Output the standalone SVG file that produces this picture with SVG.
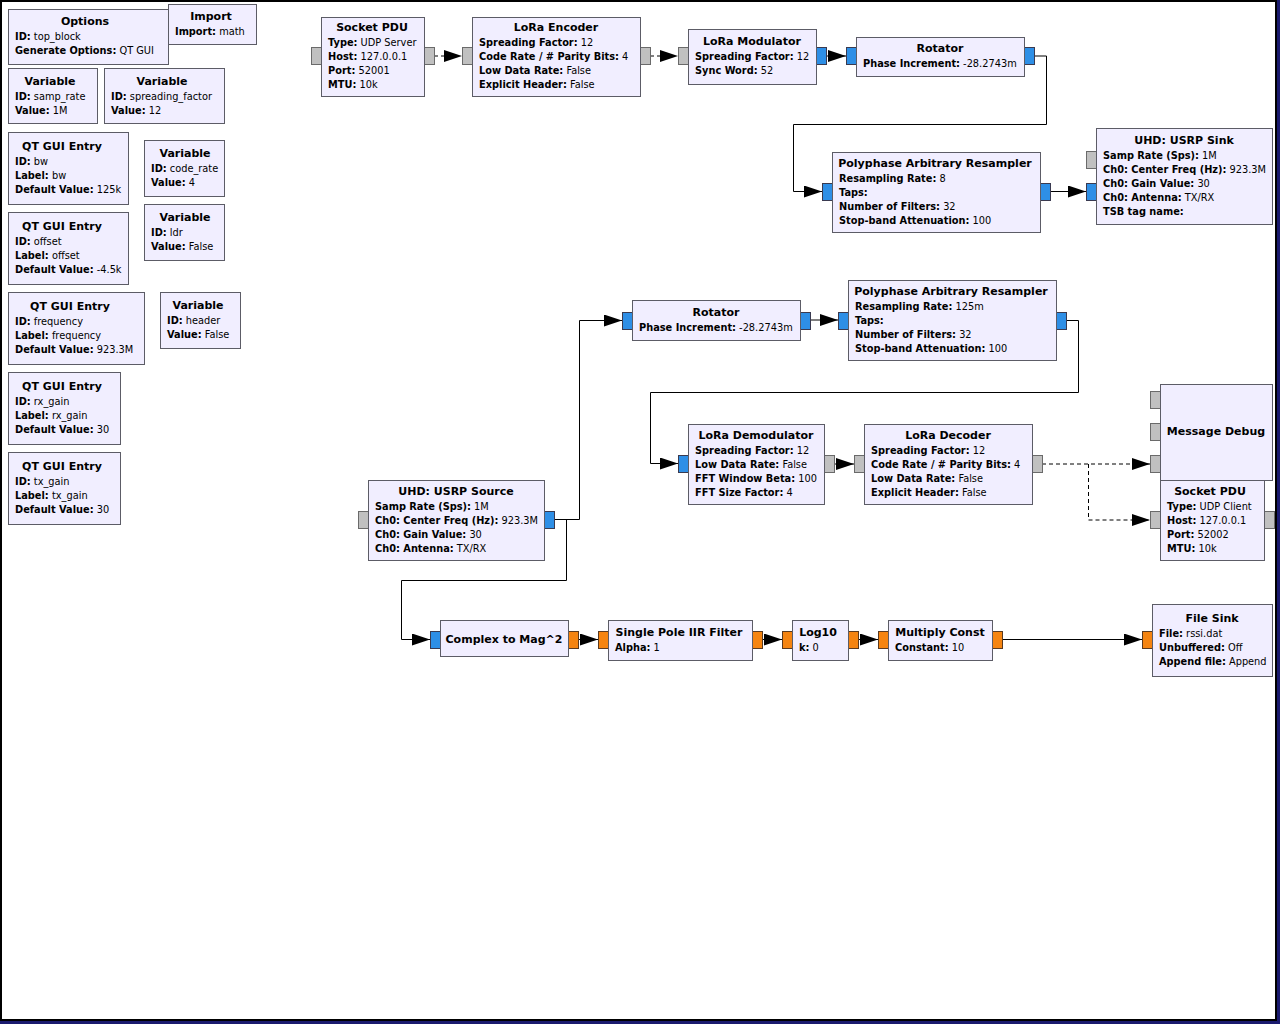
<svg xmlns="http://www.w3.org/2000/svg" width="1280" height="1024" viewBox="0 0 1280 1024">
<defs>
<style>
.blk{fill:#F1EEFF;stroke:#5c5c66;stroke-width:1}
.pm{fill:#C0C0C0;stroke:#6a6a6a;stroke-width:1}
.pc{fill:#2E8FE6;stroke:#3a3a50;stroke-width:1}
.pf{fill:#F58410;stroke:#5a3a20;stroke-width:1}
text{font-family:"DejaVu Sans","Liberation Sans",sans-serif;font-size:9.8px;fill:#000}
.t{font-weight:bold;text-anchor:middle;font-size:11px}
.k{font-weight:bold}
.c{fill:none;stroke:#000;stroke-width:1}
.d{fill:none;stroke:#000;stroke-width:1;stroke-dasharray:4,3}
</style>
<marker id="ah" viewBox="0 0 18 12" refX="18" refY="6" markerWidth="18" markerHeight="12" markerUnits="userSpaceOnUse" orient="auto">
<path d="M0,0 L18,6 L0,12 z" fill="#000"/>
</marker>
</defs>
<rect x="0" y="0" width="1280" height="1024" fill="#1a1a6e"/>
<rect x="1" y="1" width="1275" height="1019" fill="#FFFFFF" stroke="#000" stroke-width="2"/>

<g id="connectors">
<path class="d" d="M434,56 H462" marker-end="url(#ah)"/>
<path class="d" d="M650,56 H678" marker-end="url(#ah)"/>
<path class="c" d="M826,56 H846" marker-end="url(#ah)"/>
<path class="c" d="M1034,56 H1046.5 V124.5 H793.5 V191.5 H822" marker-end="url(#ah)"/>
<path class="c" d="M1050,191.5 H1086" marker-end="url(#ah)"/>
<path class="c" d="M810,320 H838" marker-end="url(#ah)"/>
<path class="c" d="M1066,320.5 H1078.5 V392.5 H650.5 V463.5 H678" marker-end="url(#ah)"/>
<path class="c" d="M834,464 H854" marker-end="url(#ah)"/>
<path class="d" d="M1042,464 H1150" marker-end="url(#ah)"/>
<path class="d" d="M1088.5,464 V520 H1150" marker-end="url(#ah)"/>
<path class="c" d="M554,519.5 H579.5 V320.5 H622" marker-end="url(#ah)"/>
<path class="c" d="M566.5,519.5 V580.5 H401.5 V639.5 H430" marker-end="url(#ah)"/>
<path class="c" d="M578,639.5 H598" marker-end="url(#ah)"/>
<path class="c" d="M762,639.5 H782" marker-end="url(#ah)"/>
<path class="c" d="M858,639.5 H878" marker-end="url(#ah)"/>
<path class="c" d="M1002,639.5 H1142" marker-end="url(#ah)"/>
</g>

<g id="options">
<rect class="blk" x="8.5" y="9.5" width="160" height="55"/>
<text class="t" x="85" y="25">Options</text>
<text x="15" y="40"><tspan class="k">ID:</tspan> top_block</text>
<text x="15" y="54"><tspan class="k">Generate Options:</tspan> QT GUI</text>
</g>
<g id="import">
<rect class="blk" x="168.5" y="4.5" width="88" height="40"/>
<text class="t" x="211" y="20">Import</text>
<text x="175" y="35"><tspan class="k">Import:</tspan> math</text>
</g>
<g id="var_samp_rate">
<rect class="blk" x="8.5" y="68.5" width="89" height="55"/>
<text class="t" x="50" y="85">Variable</text>
<text x="15" y="100"><tspan class="k">ID:</tspan> samp_rate</text>
<text x="15" y="114"><tspan class="k">Value:</tspan> 1M</text>
</g>
<g id="var_spreading_factor">
<rect class="blk" x="104.5" y="68.5" width="120" height="55"/>
<text class="t" x="162" y="85">Variable</text>
<text x="111" y="100"><tspan class="k">ID:</tspan> spreading_factor</text>
<text x="111" y="114"><tspan class="k">Value:</tspan> 12</text>
</g>
<g id="entry_bw">
<rect class="blk" x="8.5" y="132.5" width="120" height="72"/>
<text class="t" x="62" y="150">QT GUI Entry</text>
<text x="15" y="165"><tspan class="k">ID:</tspan> bw</text>
<text x="15" y="179"><tspan class="k">Label:</tspan> bw</text>
<text x="15" y="193"><tspan class="k">Default Value:</tspan> 125k</text>
</g>
<g id="var_code_rate">
<rect class="blk" x="144.5" y="140.5" width="80" height="56"/>
<text class="t" x="185" y="157">Variable</text>
<text x="151" y="172"><tspan class="k">ID:</tspan> code_rate</text>
<text x="151" y="186"><tspan class="k">Value:</tspan> 4</text>
</g>
<g id="entry_offset">
<rect class="blk" x="8.5" y="212.5" width="120" height="72"/>
<text class="t" x="62" y="230">QT GUI Entry</text>
<text x="15" y="245"><tspan class="k">ID:</tspan> offset</text>
<text x="15" y="259"><tspan class="k">Label:</tspan> offset</text>
<text x="15" y="273"><tspan class="k">Default Value:</tspan> -4.5k</text>
</g>
<g id="var_ldr">
<rect class="blk" x="144.5" y="204.5" width="80" height="56"/>
<text class="t" x="185" y="221">Variable</text>
<text x="151" y="236"><tspan class="k">ID:</tspan> ldr</text>
<text x="151" y="250"><tspan class="k">Value:</tspan> False</text>
</g>
<g id="entry_frequency">
<rect class="blk" x="8.5" y="292.5" width="136" height="72"/>
<text class="t" x="70" y="310">QT GUI Entry</text>
<text x="15" y="325"><tspan class="k">ID:</tspan> frequency</text>
<text x="15" y="339"><tspan class="k">Label:</tspan> frequency</text>
<text x="15" y="353"><tspan class="k">Default Value:</tspan> 923.3M</text>
</g>
<g id="var_header">
<rect class="blk" x="160.5" y="292.5" width="80" height="56"/>
<text class="t" x="198" y="309">Variable</text>
<text x="167" y="324"><tspan class="k">ID:</tspan> header</text>
<text x="167" y="338"><tspan class="k">Value:</tspan> False</text>
</g>
<g id="entry_rx_gain">
<rect class="blk" x="8.5" y="372.5" width="112" height="72"/>
<text class="t" x="62" y="390">QT GUI Entry</text>
<text x="15" y="405"><tspan class="k">ID:</tspan> rx_gain</text>
<text x="15" y="419"><tspan class="k">Label:</tspan> rx_gain</text>
<text x="15" y="433"><tspan class="k">Default Value:</tspan> 30</text>
</g>
<g id="entry_tx_gain">
<rect class="blk" x="8.5" y="452.5" width="112" height="72"/>
<text class="t" x="62" y="470">QT GUI Entry</text>
<text x="15" y="485"><tspan class="k">ID:</tspan> tx_gain</text>
<text x="15" y="499"><tspan class="k">Label:</tspan> tx_gain</text>
<text x="15" y="513"><tspan class="k">Default Value:</tspan> 30</text>
</g>

<g id="socket_pdu_server">
<rect class="pm" x="311.5" y="47.5" width="10" height="17"/>
<rect class="pm" x="424.5" y="47.5" width="10" height="17"/>
<rect class="blk" x="321.5" y="17.5" width="103" height="79"/>
<text class="t" x="372" y="31">Socket PDU</text>
<text x="328" y="46"><tspan class="k">Type:</tspan> UDP Server</text>
<text x="328" y="60"><tspan class="k">Host:</tspan> 127.0.0.1</text>
<text x="328" y="74"><tspan class="k">Port:</tspan> 52001</text>
<text x="328" y="88"><tspan class="k">MTU:</tspan> 10k</text>
</g>
<g id="lora_encoder">
<rect class="pm" x="462.5" y="47.5" width="10" height="17"/>
<rect class="pm" x="640.5" y="47.5" width="10" height="17"/>
<rect class="blk" x="472.5" y="17.5" width="168" height="79"/>
<text class="t" x="556" y="31">LoRa Encoder</text>
<text x="479" y="46"><tspan class="k">Spreading Factor:</tspan> 12</text>
<text x="479" y="60"><tspan class="k">Code Rate / # Parity Bits:</tspan> 4</text>
<text x="479" y="74"><tspan class="k">Low Data Rate:</tspan> False</text>
<text x="479" y="88"><tspan class="k">Explicit Header:</tspan> False</text>
</g>
<g id="lora_modulator">
<rect class="pm" x="678.5" y="47.5" width="10" height="17"/>
<rect class="pc" x="816.5" y="47.5" width="10" height="17"/>
<rect class="blk" x="688.5" y="29.5" width="128" height="55"/>
<text class="t" x="752" y="45">LoRa Modulator</text>
<text x="695" y="60"><tspan class="k">Spreading Factor:</tspan> 12</text>
<text x="695" y="74"><tspan class="k">Sync Word:</tspan> 52</text>
</g>
<g id="rotator_tx">
<rect class="pc" x="846.5" y="47.5" width="10" height="17"/>
<rect class="pc" x="1024.5" y="47.5" width="10" height="17"/>
<rect class="blk" x="856.5" y="37.5" width="168" height="39"/>
<text class="t" x="940" y="52">Rotator</text>
<text x="863" y="67"><tspan class="k">Phase Increment:</tspan> -28.2743m</text>
</g>
<g id="resampler_tx">
<rect class="pc" x="822.5" y="183.5" width="10" height="17"/>
<rect class="pc" x="1040.5" y="183.5" width="10" height="17"/>
<rect class="blk" x="832.5" y="152.5" width="208" height="80"/>
<text class="t" x="935" y="167">Polyphase Arbitrary Resampler</text>
<text x="839" y="182"><tspan class="k">Resampling Rate:</tspan> 8</text>
<text x="839" y="196"><tspan class="k">Taps:</tspan></text>
<text x="839" y="210"><tspan class="k">Number of Filters:</tspan> 32</text>
<text x="839" y="224"><tspan class="k">Stop-band Attenuation:</tspan> 100</text>
</g>
<g id="usrp_sink">
<rect class="pm" x="1086.5" y="151.5" width="10" height="17"/>
<rect class="pc" x="1086.5" y="183.5" width="10" height="17"/>
<rect class="blk" x="1096.5" y="128.5" width="176" height="96"/>
<text class="t" x="1184" y="144">UHD: USRP Sink</text>
<text x="1103" y="159"><tspan class="k">Samp Rate (Sps):</tspan> 1M</text>
<text x="1103" y="173"><tspan class="k">Ch0: Center Freq (Hz):</tspan> 923.3M</text>
<text x="1103" y="187"><tspan class="k">Ch0: Gain Value:</tspan> 30</text>
<text x="1103" y="201"><tspan class="k">Ch0: Antenna:</tspan> TX/RX</text>
<text x="1103" y="215"><tspan class="k">TSB tag name:</tspan></text>
</g>

<g id="rotator_rx">
<rect class="pc" x="622.5" y="312.5" width="10" height="17"/>
<rect class="pc" x="800.5" y="312.5" width="10" height="17"/>
<rect class="blk" x="632.5" y="300.5" width="168" height="40"/>
<text class="t" x="716" y="316">Rotator</text>
<text x="639" y="331"><tspan class="k">Phase Increment:</tspan> -28.2743m</text>
</g>
<g id="resampler_rx">
<rect class="pc" x="838.5" y="312.5" width="10" height="17"/>
<rect class="pc" x="1056.5" y="312.5" width="10" height="17"/>
<rect class="blk" x="848.5" y="280.5" width="208" height="80"/>
<text class="t" x="951" y="295">Polyphase Arbitrary Resampler</text>
<text x="855" y="310"><tspan class="k">Resampling Rate:</tspan> 125m</text>
<text x="855" y="324"><tspan class="k">Taps:</tspan></text>
<text x="855" y="338"><tspan class="k">Number of Filters:</tspan> 32</text>
<text x="855" y="352"><tspan class="k">Stop-band Attenuation:</tspan> 100</text>
</g>
<g id="lora_demodulator">
<rect class="pc" x="678.5" y="455.5" width="10" height="17"/>
<rect class="pm" x="824.5" y="455.5" width="10" height="17"/>
<rect class="blk" x="688.5" y="424.5" width="136" height="80"/>
<text class="t" x="756" y="439">LoRa Demodulator</text>
<text x="695" y="454"><tspan class="k">Spreading Factor:</tspan> 12</text>
<text x="695" y="468"><tspan class="k">Low Data Rate:</tspan> False</text>
<text x="695" y="482"><tspan class="k">FFT Window Beta:</tspan> 100</text>
<text x="695" y="496"><tspan class="k">FFT Size Factor:</tspan> 4</text>
</g>
<g id="lora_decoder">
<rect class="pm" x="854.5" y="455.5" width="10" height="17"/>
<rect class="pm" x="1032.5" y="455.5" width="10" height="17"/>
<rect class="blk" x="864.5" y="424.5" width="168" height="80"/>
<text class="t" x="948" y="439">LoRa Decoder</text>
<text x="871" y="454"><tspan class="k">Spreading Factor:</tspan> 12</text>
<text x="871" y="468"><tspan class="k">Code Rate / # Parity Bits:</tspan> 4</text>
<text x="871" y="482"><tspan class="k">Low Data Rate:</tspan> False</text>
<text x="871" y="496"><tspan class="k">Explicit Header:</tspan> False</text>
</g>
<g id="socket_pdu_client">
<rect class="pm" x="1150.5" y="511.5" width="10" height="17"/>
<rect class="pm" x="1264.5" y="511.5" width="10" height="17"/>
<rect class="blk" x="1160.5" y="480.5" width="104" height="80"/>
<text class="t" x="1210" y="495">Socket PDU</text>
<text x="1167" y="510"><tspan class="k">Type:</tspan> UDP Client</text>
<text x="1167" y="524"><tspan class="k">Host:</tspan> 127.0.0.1</text>
<text x="1167" y="538"><tspan class="k">Port:</tspan> 52002</text>
<text x="1167" y="552"><tspan class="k">MTU:</tspan> 10k</text>
</g>
<g id="message_debug">
<rect class="pm" x="1150.5" y="391.5" width="10" height="17"/>
<rect class="pm" x="1150.5" y="423.5" width="10" height="17"/>
<rect class="pm" x="1150.5" y="455.5" width="10" height="17"/>
<rect class="blk" x="1160.5" y="384.5" width="112" height="96"/>
<text class="t" x="1216" y="435">Message Debug</text>
</g>
<g id="usrp_source">
<rect class="pm" x="358.5" y="511.5" width="10" height="17"/>
<rect class="pc" x="544.5" y="511.5" width="10" height="17"/>
<rect class="blk" x="368.5" y="480.5" width="176" height="80"/>
<text class="t" x="456" y="495">UHD: USRP Source</text>
<text x="375" y="510"><tspan class="k">Samp Rate (Sps):</tspan> 1M</text>
<text x="375" y="524"><tspan class="k">Ch0: Center Freq (Hz):</tspan> 923.3M</text>
<text x="375" y="538"><tspan class="k">Ch0: Gain Value:</tspan> 30</text>
<text x="375" y="552"><tspan class="k">Ch0: Antenna:</tspan> TX/RX</text>
</g>
<g id="complex_to_mag2">
<rect class="pc" x="430.5" y="631.5" width="10" height="17"/>
<rect class="pf" x="568.5" y="631.5" width="10" height="17"/>
<rect class="blk" x="440.5" y="620.5" width="128" height="36"/>
<text class="t" x="504" y="643">Complex to Mag^2</text>
</g>
<g id="iir_filter">
<rect class="pf" x="598.5" y="631.5" width="10" height="17"/>
<rect class="pf" x="752.5" y="631.5" width="10" height="17"/>
<rect class="blk" x="608.5" y="620.5" width="144" height="40"/>
<text class="t" x="679" y="636">Single Pole IIR Filter</text>
<text x="615" y="651"><tspan class="k">Alpha:</tspan> 1</text>
</g>
<g id="log10">
<rect class="pf" x="782.5" y="631.5" width="10" height="17"/>
<rect class="pf" x="848.5" y="631.5" width="10" height="17"/>
<rect class="blk" x="792.5" y="620.5" width="56" height="40"/>
<text class="t" x="818" y="636">Log10</text>
<text x="799" y="651"><tspan class="k">k:</tspan> 0</text>
</g>
<g id="multiply_const">
<rect class="pf" x="878.5" y="631.5" width="10" height="17"/>
<rect class="pf" x="992.5" y="631.5" width="10" height="17"/>
<rect class="blk" x="888.5" y="620.5" width="104" height="40"/>
<text class="t" x="940" y="636">Multiply Const</text>
<text x="895" y="651"><tspan class="k">Constant:</tspan> 10</text>
</g>
<g id="file_sink">
<rect class="pf" x="1142.5" y="631.5" width="10" height="17"/>
<rect class="blk" x="1152.5" y="604.5" width="120" height="72"/>
<text class="t" x="1212" y="622">File Sink</text>
<text x="1159" y="637"><tspan class="k">File:</tspan> rssi.dat</text>
<text x="1159" y="651"><tspan class="k">Unbuffered:</tspan> Off</text>
<text x="1159" y="665"><tspan class="k">Append file:</tspan> Append</text>
</g>
</svg>
